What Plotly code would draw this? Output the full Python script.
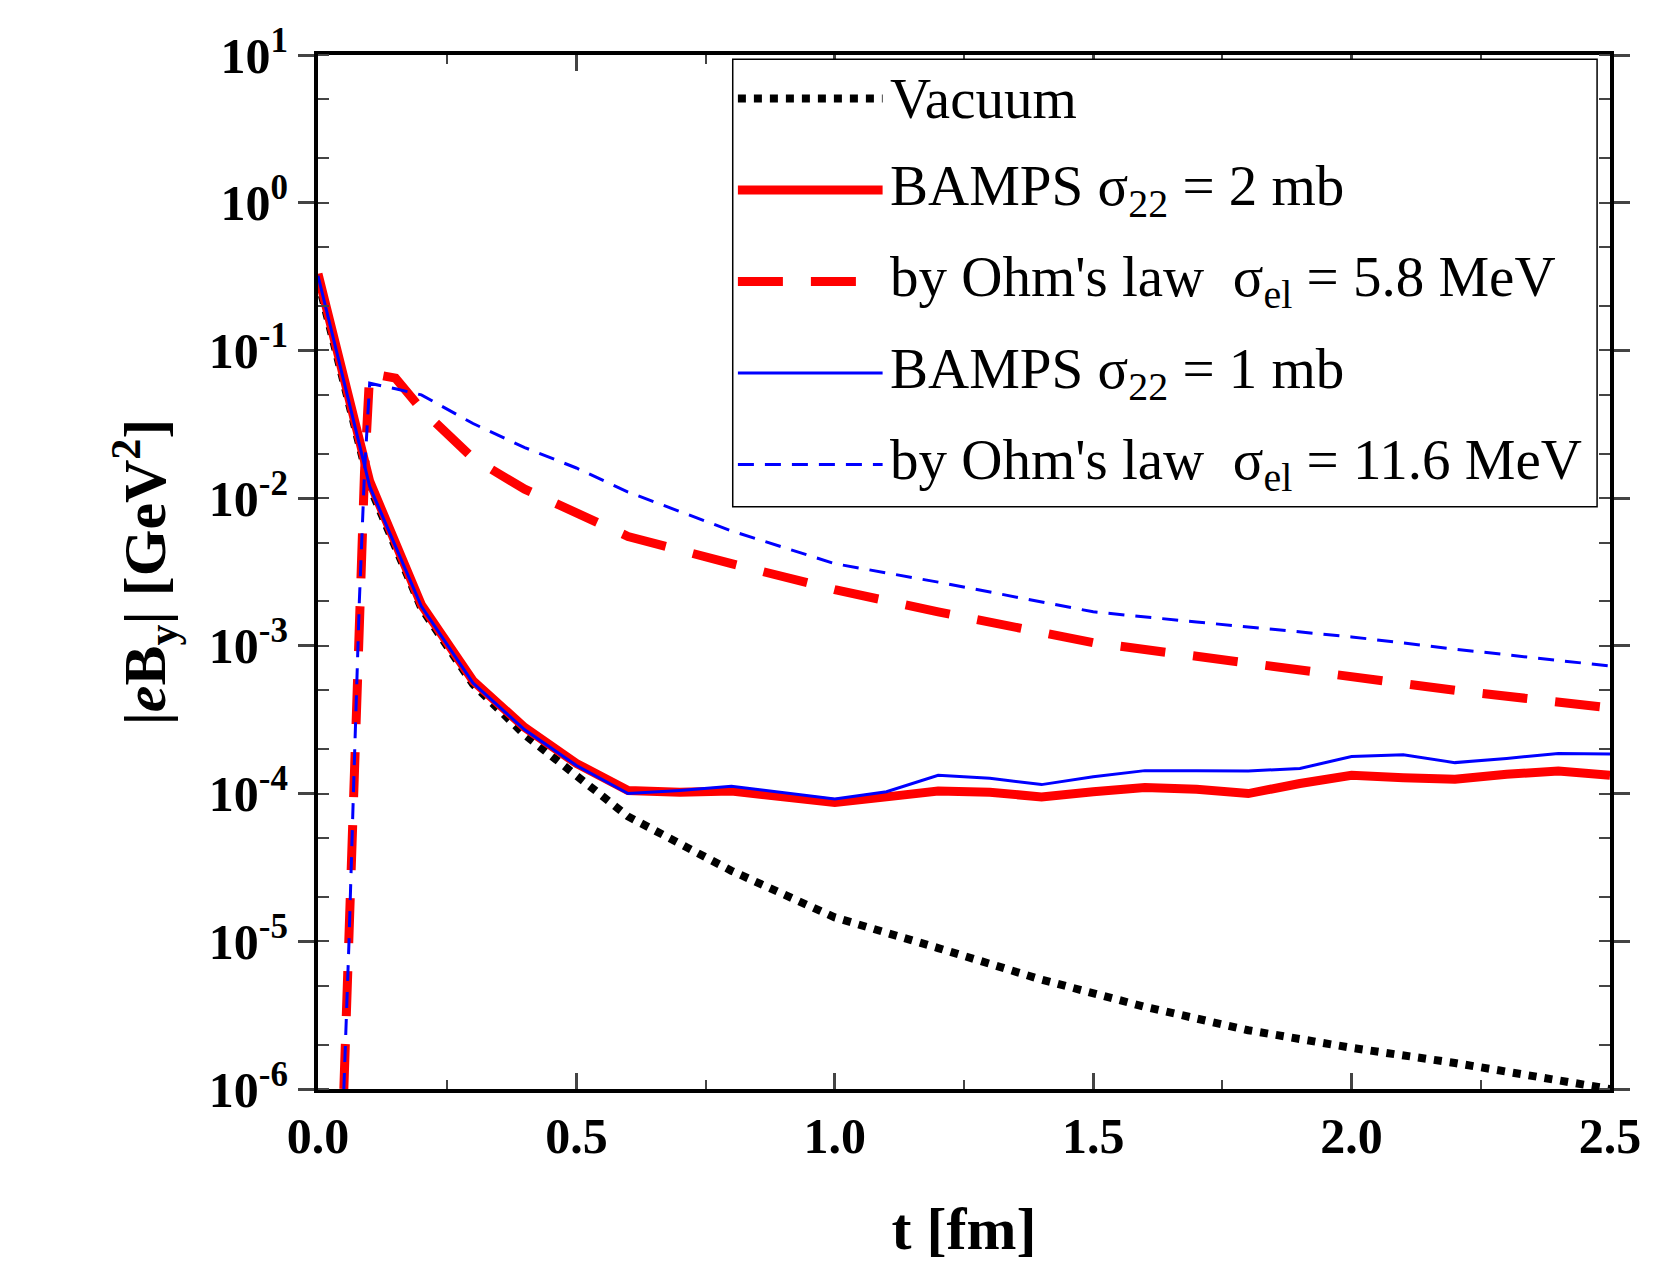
import plotly.graph_objects as go

t_vac = [0.0, 0.1, 0.2, 0.3, 0.4, 0.5, 0.6, 0.8, 1.0, 1.2, 1.4, 1.6, 1.8, 2.0, 2.2, 2.5]
vac = [0.3, 0.012, 1.8e-3, 5.5e-4, 2.5e-4, 1.3e-4, 7e-5, 3e-5, 1.45e-5, 9e-6, 5.5e-6, 3.6e-6, 2.5e-6, 1.9e-6, 1.5e-6, 1e-6]

t_b = [round(0.1 * i, 1) for i in range(26)]
bamps2 = [0.33, 0.013, 1.9e-3, 5.8e-4, 2.8e-4, 1.6e-4, 1.05e-4, 1.02e-4, 1.04e-4, 9.5e-5, 8.7e-5,
          9.5e-5, 1.04e-4, 1.02e-4, 9.5e-5, 1.03e-4, 1.1e-4, 1.07e-4, 1.0e-4, 1.17e-4, 1.33e-4,
          1.28e-4, 1.25e-4, 1.35e-4, 1.42e-4, 1.33e-4]
bamps1 = [0.32, 0.012, 1.85e-3, 5.6e-4, 2.7e-4, 1.55e-4, 1.0e-4, 1.05e-4, 1.12e-4, 1.02e-4, 9.2e-5,
          1.03e-4, 1.33e-4, 1.27e-4, 1.15e-4, 1.3e-4, 1.43e-4, 1.43e-4, 1.42e-4, 1.48e-4, 1.78e-4,
          1.83e-4, 1.62e-4, 1.73e-4, 1.87e-4, 1.85e-4]

t_ohm = [0.05, 0.06, 0.07, 0.08, 0.09, 0.1, 0.15, 0.2, 0.3, 0.4, 0.5, 0.6, 0.8, 1.0, 1.2, 1.5, 1.7, 2.0, 2.2, 2.5]
ohm58 = [1e-6, 1e-5, 1.5e-4, 2e-3, 0.015, 0.07, 0.065, 0.04, 0.0186, 0.0115, 8e-3, 5.5e-3, 3.6e-3,
         2.4e-3, 1.7e-3, 1.05e-3, 8.5e-4, 6.1e-4, 5e-4, 3.8e-4]
ohm116 = [1e-6, 1e-5, 1.5e-4, 2e-3, 0.015, 0.06, 0.055, 0.05, 0.032, 0.022, 0.016, 0.011, 6e-3,
          3.6e-3, 2.7e-3, 1.7e-3, 1.45e-3, 1.15e-3, 9.5e-4, 7.3e-4]

exps = [1, 0, -1, -2, -3, -4, -5, -6]
FONT = "Liberation Serif"

vac_line = dict(color="black", width=8, dash="dot")
b2_line = dict(color="red", width=9)
o58_line = dict(color="red", width=9, dash="45px,28px")
b1_line = dict(color="blue", width=3)
o116_line = dict(color="blue", width=3, dash="16px,11px")

fig = go.Figure()
fig.add_trace(go.Scatter(x=t_vac, y=vac, mode="lines", line=vac_line))
fig.add_trace(go.Scatter(x=t_ohm, y=ohm58, mode="lines", line=o58_line))
fig.add_trace(go.Scatter(x=t_b, y=bamps2, mode="lines", line=b2_line))
fig.add_trace(go.Scatter(x=t_ohm, y=ohm116, mode="lines", line=o116_line))
fig.add_trace(go.Scatter(x=t_b, y=bamps1, mode="lines", line=b1_line))

# legend drawn by hand (long line samples)
legend = [
    ("Vacuum", vac_line),
    ("BAMPS σ<sub>22</sub> = 2 mb", b2_line),
    ("by Ohm's law  σ<sub>el</sub> = 5.8 MeV", o58_line),
    ("BAMPS σ<sub>22</sub> = 1 mb", b1_line),
    ("by Ohm's law  σ<sub>el</sub> = 11.6 MeV", o116_line),
]
shapes = [dict(type="rect", xref="paper", yref="paper", x0=0.321, x1=0.99, y0=0.563, y1=0.996,
               line=dict(color="black", width=1.5), fillcolor="white", layer="above")]
annotations = []
for i, (txt, ln) in enumerate(legend):
    yy = 0.958 - i * 0.0885
    shapes.append(dict(type="line", xref="paper", yref="paper", x0=0.325, x1=0.437, y0=yy, y1=yy,
                       line=ln, layer="above"))
    annotations.append(dict(xref="paper", yref="paper", x=0.441, y=yy, text=txt, showarrow=False,
                            xanchor="left", yanchor="middle", font=dict(family=FONT, size=57, color="black")))

fig.update_layout(
    width=1665, height=1283, showlegend=False,
    plot_bgcolor="white", paper_bgcolor="white",
    margin=dict(l=310, r=63, t=36, b=202),
    font=dict(family=FONT, color="black"),
    shapes=shapes, annotations=annotations,
)
fig.update_xaxes(range=[0, 2.5], tickvals=[0, 0.5, 1.0, 1.5, 2.0, 2.5],
                 ticktext=["<b>0.0</b>", "<b>0.5</b>", "<b>1.0</b>", "<b>1.5</b>", "<b>2.0</b>", "<b>2.5</b>"],
                 tickfont=dict(size=50, family=FONT), ticks="inside", ticklen=16, tickwidth=3,
                 minor=dict(ticks="inside", ticklen=9, tickwidth=2, dtick=0.25),
                 showline=True, linewidth=4, linecolor="black", mirror="ticks", showgrid=False,
                 title=dict(text="<b>t [fm]</b>", font=dict(size=60, family=FONT), standoff=45))
fig.update_yaxes(type="log", range=[-6, 1], tickvals=[10.0 ** e for e in exps],
                 ticktext=["<b>10<sup>%d</sup></b>" % e for e in exps],
                 tickfont=dict(size=50, family=FONT), ticks="outside", ticklen=16, tickwidth=3,
                 minor=dict(ticks="inside", ticklen=11, tickwidth=2, showgrid=False),
                 showline=True, linewidth=4, linecolor="black", mirror="ticks", showgrid=False,
                 title=dict(text="<b>|<i>e</i>B<sub>y</sub>| [GeV<sup>2</sup>]</b>", font=dict(size=60, family=FONT), standoff=25))
fig.write_html("out.html")
